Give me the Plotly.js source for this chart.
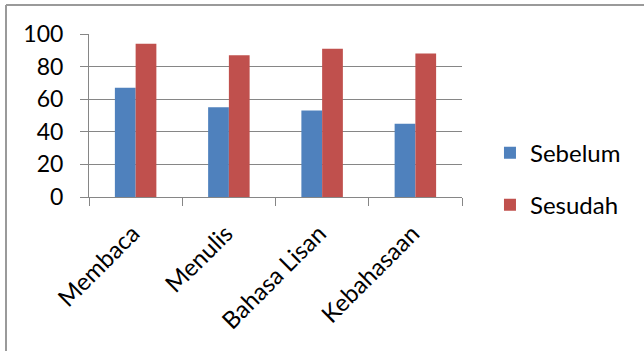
<!DOCTYPE html>
<html>
<head>
<meta charset="utf-8">
<script src="https://cdn.plot.ly/plotly-3.0.1.min.js"></script>
<style>html,body{margin:0;padding:0;background:#fff;}#chart{width:644px;height:351px;}</style>
</head>
<body>
<div id="chart"></div>
<script>
var categories = ["Membaca", "Menulis", "Bahasa Lisan", "Kebahasaan"];
var sebelum = [67, 55, 53, 45];
var sesudah = [94, 87, 91, 88];
var yTicks = [0, 20, 40, 60, 80, 100];

var traces = [
  {type: "bar", name: "Sebelum", x: categories, y: sebelum, marker: {color: "#4F81BD"}, legendgroup: "a"},
  {type: "bar", name: "Sesudah", x: categories, y: sesudah, marker: {color: "#C0504D"}, legendgroup: "b"}
];

var layout = {
  width: 644, height: 351,
  margin: {l: 89, r: 182, t: 34, b: 154},
  paper_bgcolor: "#fff", plot_bgcolor: "#fff",
  font: {family: "Lato, 'Open Sans', sans-serif", size: 21, color: "#000"},
  barmode: "group", bargap: 0.555, bargroupgap: 0,
  showlegend: true,
  legend: {x: 1.075, xanchor: "left", y: 0.11, yanchor: "middle", tracegroupgap: 18,
           font: {size: 24}, itemwidth: 30, bgcolor: "rgba(0,0,0,0)"},
  xaxis: {type: "category", showline: true, linecolor: "#868686", linewidth: 1,
          ticks: "outside", tickson: "boundaries", ticklen: 8, tickcolor: "#868686",
          tickangle: -45, showgrid: false, tickfont: {size: 24},
          ticklabelshift: -3, ticklabelstandoff: 12},
  yaxis: {range: [0, 100], tickvals: yTicks, showline: true, linecolor: "#868686",
          ticks: "outside", ticklen: 8, tickcolor: "#868686",
          showgrid: true, gridcolor: "#868686", gridwidth: 1, zeroline: false,
          tickfont: {size: 23}, ticklabelstandoff: 12},
  shapes: [
    {type: "line", xref: "paper", yref: "paper", x0: -83/373, x1: 1 + 182/373, y0: 1 + 29/163, y1: 1 + 29/163, line: {color: "#9a9a9a", width: 2}},
    {type: "line", xref: "paper", yref: "paper", x0: -83/373, x1: -83/373, y0: 1 + 29/163, y1: -154/163, line: {color: "#9a9a9a", width: 2}}
  ]
};

Plotly.newPlot("chart", traces, layout, {displayModeBar: false, staticPlot: true});
</script>
</body>
</html>
